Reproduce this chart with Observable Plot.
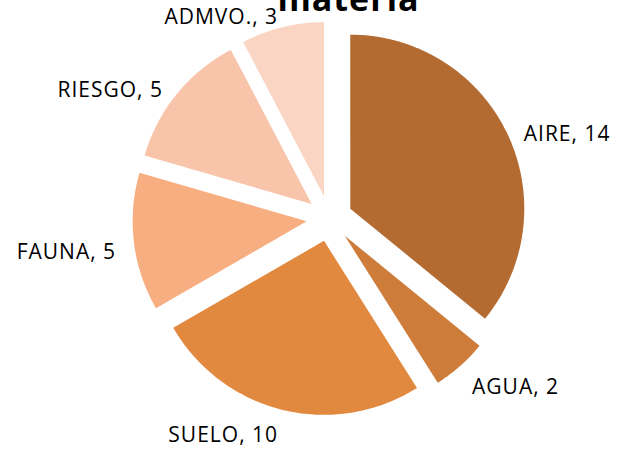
<!DOCTYPE html>
<html>
<head>
<meta charset="utf-8">
<script src="https://cdn.jsdelivr.net/npm/d3@7"></script>
<script src="https://cdn.jsdelivr.net/npm/@observablehq/plot@0.6"></script>
<style>
  html, body { margin: 0; padding: 0; background: #fff; }
  #chart svg text { letter-spacing: 1px; }
</style>
</head>
<body>
<div id="chart"></div>
<script>
// ---- data ----
const names  = ["AIRE", "AGUA", "SUELO", "FAUNA", "RIESGO", "ADMVO."];
const values = [14, 2, 10, 5, 5, 3];
const colors = ["#B36B32", "#CD7C3A", "#E28940", "#F7AE80", "#F8C4AA", "#FAD5C4"];
const titleText = "materia";

// ---- layout ----
const W = 644, H = 450;
const cx = 329, cy = 218, r = 174;      // pie centre and radius (px)
const explode = 23 / r;                   // slice offset, in radius units
const labelR = 215 / r;                   // label anchor radius, in radius units

const table = names.map((name, i) => ({name, value: values[i]}));
const arcs = d3.pie().sort(null).value(d => d.value).startAngle(0).endAngle(2 * Math.PI)(table);

const slicePts = arcs.flatMap(a => {
  const m = (a.startAngle + a.endAngle) / 2;
  const ox = explode * Math.sin(m), oy = explode * Math.cos(m);
  const pts = [{name: a.data.name, x: ox, y: oy}];
  const n = Math.max(2, Math.ceil((a.endAngle - a.startAngle) / (Math.PI / 180)));
  for (let k = 0; k <= n; k++) {
    const t = a.startAngle + (a.endAngle - a.startAngle) * k / n;
    pts.push({name: a.data.name, x: ox + Math.sin(t), y: oy + Math.cos(t)});
  }
  return pts;
});

const labels = arcs.map(a => {
  const m = (a.startAngle + a.endAngle) / 2;
  return {text: `${a.data.name}, ${a.data.value}`, x: labelR * Math.sin(m), y: labelR * Math.cos(m), right: Math.sin(m) >= 0};
});

const chart = Plot.plot({
  width: W,
  height: H,
  margin: 0,
  style: {fontFamily: "'Open Sans', sans-serif", overflow: "visible", background: "#fff"},
  x: {domain: [-cx / r, (W - cx) / r], axis: null},
  y: {domain: [(cy - H) / r, cy / r], axis: null},
  color: {domain: names, range: colors},
  marks: [
    Plot.line(slicePts, {x: "x", y: "y", z: "name", fill: "name", stroke: "none", curve: "linear"}),
    Plot.text(labels.filter(d => d.right), {x: "x", y: "y", text: "text", textAnchor: "start", dy: 8, fontSize: 21, fill: "#000"}),
    Plot.text(labels.filter(d => !d.right), {x: "x", y: "y", text: "text", textAnchor: "end", dy: 8, fontSize: 21, fill: "#000"}),
    Plot.text([titleText], {frameAnchor: "top", dx: 26, dy: 10, lineAnchor: "bottom", fontSize: 34, fontWeight: "bold", fill: "#000"})
  ]
});
document.getElementById("chart").appendChild(chart);
</script>
</body>
</html>
